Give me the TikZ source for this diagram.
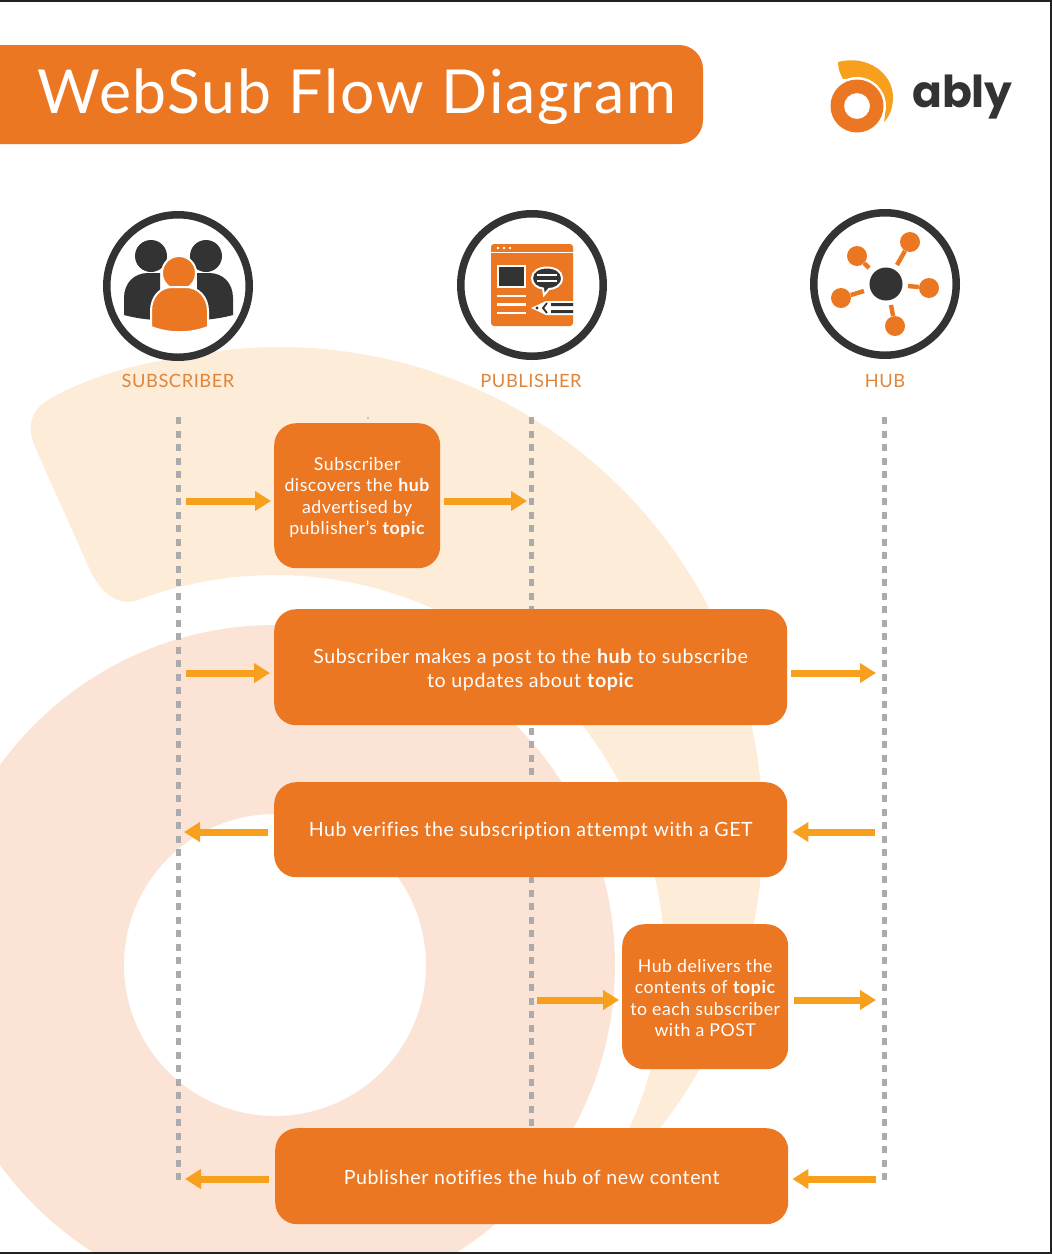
\documentclass[tikz,border=0pt]{standalone}
\usepackage{fontspec}
\setmainfont{Lato}[LetterSpace=3,Ligatures={ResetAll,NoCommon}]
\newfontfamily\logofont{Poppins}
\usetikzlibrary{arrows.meta}
\definecolor{brand}{HTML}{EC7723}
\definecolor{arrowc}{HTML}{F6A01E}
\definecolor{cream}{HTML}{FDECD8}
\definecolor{blush}{HTML}{FBE4D6}
\definecolor{ink}{HTML}{333333}
\definecolor{dashc}{HTML}{ABABAE}
\definecolor{labelc}{HTML}{E0853A}
\definecolor{framec}{HTML}{222222}
\newcommand\firstline[1]{\rule{0pt}{#1pt}}
\tikzset{
  stepbox/.style={fill=brand,rounded corners=22pt,text=white,align=center,font=\fontsize{19.6}{21.4}\selectfont,inner sep=0pt,anchor=north west},
  smallstep/.style={stepbox,minimum width=166pt,minimum height=145pt,font=\fontsize{17.7}{21.4}\selectfont},
  flow/.style={draw=arrowc,line width=7pt,-{Triangle[length=16pt,width=19pt]}},
  lifeline/.style={draw=dashc,line width=5pt,dash pattern=on 7pt off 6.5pt},
  actor/.style={text=labelc,font=\fontsize{18.3}{20}\selectfont},
  ringicon/.style={circle,draw=ink,line width=7.5pt,fill=white,minimum size=142.5pt,inner sep=0pt},
  hubarm/.style={draw=brand,line width=4.4pt},
  hubnode/.style={circle,fill=brand,minimum size=20pt,inner sep=0pt},
}
\begin{document}
\begin{tikzpicture}[x=1pt,y=-1pt]
\useasboundingbox (0,0) rectangle (1052,1254);
\fill[white] (0,0) rectangle (1052,1254);
% background: pink ring
\begin{scope}
\clip (0,0) rectangle (1052,1254);
\fill[blush,even odd rule] (275,965) circle[radius=340] (275,965) circle[radius=151];
\end{scope}
% background: cream swoosh
\fill[cream] plot[domain=-28:111,samples=70] ({275+390*cos(\x)},{965-390*sin(\x)})
  .. controls (118,606) and (100,592) .. (90,570)
  -- (35,447) .. controls (27,428) and (30,411) .. (48,400)
  .. controls (80,381) and (125,366) .. (172,359)
  -- plot[domain=103:-45,samples=70] ({280+483*cos(\x)},{830-483*sin(\x)})
  -- cycle;
% speck
\fill[ink] (368,418) circle[radius=.7];
% frame
\fill[framec] (0,0) rectangle (1052,2);
\fill[framec] (0,1252) rectangle (1052,1254);
\fill[framec] (1050,0) rectangle (1052,1254);
% title
\fill[brand] (-40,45) [rounded corners=24pt] -- (703,45) -- (703,144) [sharp corners] -- (-40,144) -- cycle;
\node[anchor=base west,text=white,font=\fontsize{60.7}{60}\selectfont,inner sep=0pt] (title) at (37.5,113) {WebSub Flow Diagram};
% logo
\fill[arrowc] (838,62) .. controls (868,54) and (893,74) .. (893,97)
  .. controls (893,107) and (890,116) .. (884,122)
  .. controls (889,100) and (875,77) .. (843,79)
  .. controls (840,74) and (838,68) .. (838,62) -- cycle;
\fill[white] (857,106) circle[radius=29];
\fill[brand,even odd rule] (857,106) circle[radius=26.5] (857,106) circle[radius=13];
\node[anchor=base west,text=ink,font=\logofont\bfseries\fontsize{44}{44}\selectfont,inner sep=0pt] (logo) at (912,107) {ably};
% subscriber icon
\node[ringicon] (subicon) at (178,286) {};
\fill[ink] (151,256) circle[radius=16] (206,256) circle[radius=16];
\fill[ink] (124,315) -- (124,298) .. controls (124,283) and (134,273) .. (148,273) -- (160,273) -- (160,320) .. controls (148,320) and (135,318) .. (124,315) -- cycle;
\fill[ink] (233,315) -- (233,298) .. controls (233,283) and (223,273) .. (209,273) -- (197,273) -- (197,320) .. controls (209,320) and (222,318) .. (233,315) -- cycle;
\filldraw[fill=brand,draw=white,line width=2pt] (179,273) circle[radius=17];
\filldraw[fill=brand,draw=white,line width=2pt] (151,327) -- (151,311) .. controls (151,297) and (160,287) .. (172,287) -- (186,287) .. controls (198,287) and (208,297) .. (208,311) -- (208,327) .. controls (190,334) and (169,334) .. (151,327) -- cycle;
% publisher icon
\node[ringicon] (pubicon) at (532,285) {};
\fill[brand,rounded corners=3pt] (491,244) rectangle (573,326);
\draw[white,line width=1.6pt] (491,252.5) -- (573,252.5);
\fill[white] (498,248) circle[radius=1.4] (504,248) circle[radius=1.4] (510,248) circle[radius=1.4];
\filldraw[fill=ink,draw=white,line width=2pt] (498,266) rectangle (525,287);
\draw[white,line width=2.4pt] (497,296) -- (526,296) (497,304.5) -- (526,304.5) (497,313) -- (526,313);
\filldraw[fill=ink,draw=white,line width=2pt] (532,278) .. controls (532,264) and (562,264) .. (562,278) .. controls (562,286) and (554,289) .. (549,289) -- (544,295) -- (543,288.5) .. controls (537,288) and (532,284) .. (532,278) -- cycle;
\draw[white,line width=2.2pt] (537,275) -- (557,275) (537,281) -- (557,281);
\fill[white] (531,308) -- (546,301) -- (573,301) -- (573,315) -- (546,315) -- cycle;
\fill[ink] (537,308) circle[radius=1.7];
\draw[ink,line width=1.8pt] (547,303) -- (543,308) -- (547,313);
\fill[ink] (551,303) rectangle (573,306) (551,310) rectangle (573,313);
% hub icon
\node[ringicon] (hubicon) at (885,284) {};
\node[circle,fill=ink,minimum size=33pt,inner sep=0pt] (hubcore) at (886,284) {};
\node[hubnode] (h1) at (910,242) {};
\node[hubnode] (h2) at (857,256) {};
\node[hubnode] (h3) at (841,298) {};
\node[hubnode] (h4) at (929,288) {};
\node[hubnode] (h5) at (895,326) {};
\coordinate (e1) at (897,265);
\coordinate (e2) at (869,268);
\coordinate (e3) at (864,291);
\coordinate (e4) at (908,286);
\coordinate (e5) at (891,305);
\draw[hubarm] (h1) -- (e1);
\draw[hubarm] (h2) -- (e2);
\draw[hubarm] (h3) -- (e3);
\draw[hubarm] (h4) -- (e4);
\draw[hubarm] (h5) -- (e5);
% actor labels
\node[actor] (lsub) at (178,381) {SUBSCRIBER};
\node[actor] (lpub) at (531,381) {PUBLISHER};
\node[actor] (lhub) at (885,381) {HUB};
% lifelines
\coordinate (st) at (178,417); \coordinate (sb) at (178,1181);
\coordinate (pt) at (531,417); \coordinate (pb) at (531,1128);
\coordinate (ht) at (884,417); \coordinate (hb) at (884,1181);
\draw[lifeline] (st) -- (sb);
\draw[lifeline] (pt) -- (pb);
\draw[lifeline] (ht) -- (hb);
% steps
\node[smallstep] (b1) at (274,423) {\firstline{17}Subscriber\\discovers the \textbf{hub}\\advertised by\\publisher's \textbf{topic}};
\node[stepbox,minimum width=513pt,minimum height=116pt,font=\fontsize{19.6}{24}\selectfont] (b2) at (274,609) {\firstline{19}Subscriber makes a post to the \textbf{hub} to subscribe\\to updates about \textbf{topic}};
\node[stepbox,minimum width=513pt,minimum height=95pt] (b3) at (274,782) {\firstline{16}Hub verifies the subscription attempt with a GET};
\node[smallstep] (b4) at (622,924) {\firstline{16}Hub delivers the\\contents of \textbf{topic}\\to each subscriber\\with a POST};
\node[stepbox,minimum width=513pt,minimum height=96pt] (b5) at (275,1128) {\firstline{16}Publisher notifies the hub of new content};
% anchor points on the lifelines
\coordinate (s1) at (178,501); \coordinate (p1) at (531,501);
\coordinate (s2) at (178,673); \coordinate (h2r) at (884,673);
\coordinate (s3) at (178,832); \coordinate (h3r) at (884,832);
\coordinate (p4) at (531,1000); \coordinate (h4r) at (884,1000);
\coordinate (s5) at (178,1179); \coordinate (h5r) at (884,1179);
% arrows
\draw[flow,shorten <=8pt,shorten >=3pt] (s1) -- (b1.west |- s1);
\draw[flow,shorten <=4pt,shorten >=4pt] (b1.east |- p1) -- (p1);
\draw[flow,shorten <=8pt,shorten >=4pt] (s2) -- (b2.west |- s2);
\draw[flow,shorten <=4pt,shorten >=8pt] (b2.east |- h2r) -- (h2r);
\draw[flow,shorten <=6pt,shorten >=6pt] (b3.west |- s3) -- (s3);
\draw[flow,shorten <=9pt,shorten >=5pt] (h3r) -- (b3.east |- h3r);
\draw[flow,shorten <=6pt,shorten >=3pt] (p4) -- (b4.west |- p4);
\draw[flow,shorten <=6pt,shorten >=8pt] (b4.east |- h4r) -- (h4r);
\draw[flow,shorten <=6pt,shorten >=7pt] (b5.west |- s5) -- (s5);
\draw[flow,shorten <=8pt,shorten >=4pt] (h5r) -- (b5.east |- h5r);
\end{tikzpicture}
\end{document}
